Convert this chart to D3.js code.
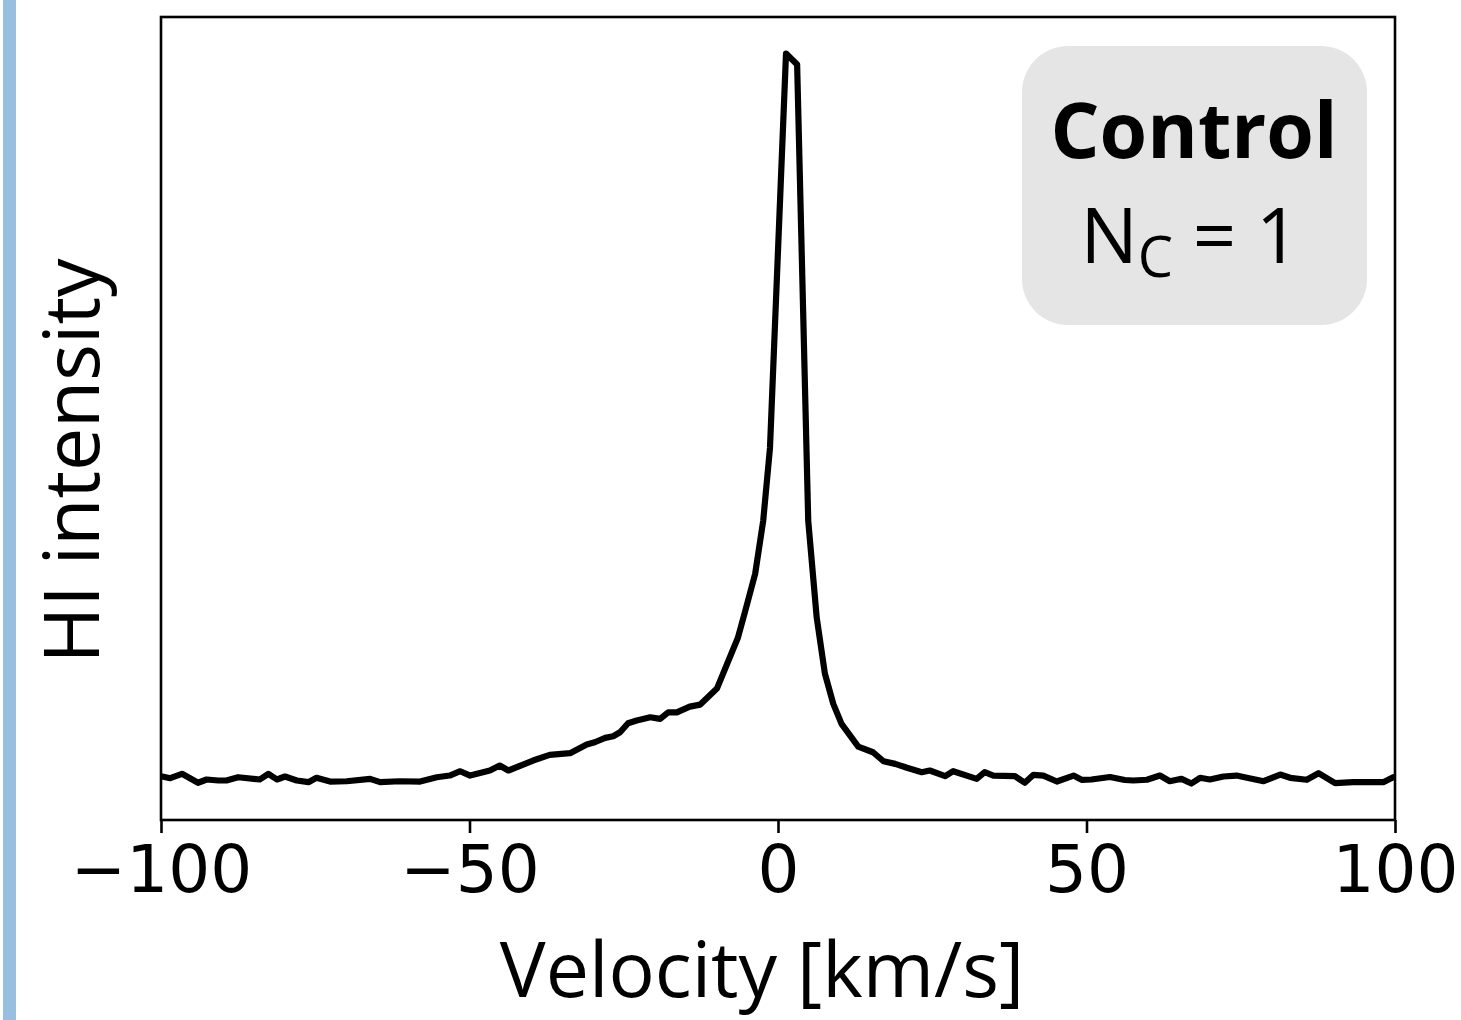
<!DOCTYPE html>
<html>
<head>
<meta charset="utf-8">
<script src="https://cdn.jsdelivr.net/npm/d3@7"></script>
<style>
  html, body { margin: 0; padding: 0; background: #fff; }
  svg { display: block; }
</style>
</head>
<body>
<svg id="chart" width="1461" height="1020"></svg>
<script>
// HI spectrum: velocity (km/s) and intensity (arbitrary units, peak = 100)
const velocity = [
  -100, -98.5, -96.6, -94.0, -92.6, -90.7, -89.4, -87.5, -84.0, -82.6,
  -81.2, -79.9, -78.0, -76.1, -74.8, -72.6, -69.9, -66.1, -64.5, -61.3,
  -58.0, -55.3, -53.2, -51.5, -49.9, -46.7, -45.1, -43.7, -39.7, -37.0,
  -33.7, -31.0, -29.7, -28.0, -26.7, -25.6, -24.3, -22.9, -20.7, -19.1,
  -17.8, -16.4, -14.3, -12.6, -9.9, -6.5, -5.3, -3.7, -2.4, -1.3,
  1.3, 3.1, 4.9, 6.27, 7.6, 8.96, 10.3, 13.0, 15.4, 17.1,
  19.0, 20.9, 23.3, 24.6, 27.1, 28.4, 32.2, 33.5, 34.9, 38.4,
  40.0, 41.4, 43.0, 45.2, 47.9, 49.2, 50.8, 53.8, 56.2, 57.6,
  59.8, 61.9, 63.5, 65.4, 67.0, 68.4, 70.0, 72.2, 74.3, 76.0,
  78.7, 81.4, 83.0, 85.7, 87.6, 90.3, 93.2, 98.1, 99.7, 100
];
const intensity = [
  1.0, 0.73, 1.33, 0.10, 0.55, 0.41, 0.41, 0.86, 0.55, 1.33,
  0.55, 0.96, 0.41, 0.18, 0.78, 0.27, 0.31, 0.64, 0.18, 0.31,
  0.27, 0.86, 1.09, 1.68, 1.09, 1.78, 2.46, 1.78, 3.15, 3.93,
  4.15, 5.34, 5.65, 6.25, 6.47, 7.02, 8.25, 8.62, 9.07, 8.85,
  9.75, 9.75, 10.53, 10.81, 13.0, 19.97, 23.67, 28.73, 35.98, 45.96,
  100, 98.5, 35.98, 22.75, 15.05, 10.9, 8.17, 5.06, 4.28, 3.05,
  2.69, 2.15, 1.55, 1.78, 1.0, 1.68, 0.64, 1.55, 1.09, 1.0,
  0.10, 1.19, 1.09, 0.27, 1.09, 0.51, 0.55, 0.89, 0.48, 0.41,
  0.51, 1.09, 0.31, 0.64, 0.0, 0.78, 0.55, 0.96, 1.09, 0.78,
  0.31, 1.23, 0.78, 0.51, 1.41, 0.04, 0.18, 0.18, 0.86, 0.9
];
const xTicks = [-100, -50, 0, 50, 100];
const xLabel = "Velocity [km/s]";
const yLabel = "HI intensity";
const boxTitle = "Control";
const boxCount = 1;

const spectrum = velocity.map((v, i) => ({ v, t: intensity[i] }));

const svg = d3.select("#chart");
const plot = { left: 161, right: 1395, top: 17, bottom: 820 };

// side accent bar
svg.append("rect")
  .attr("x", 3).attr("y", 0).attr("width", 13).attr("height", 1020)
  .attr("fill", "#98bee0");

const x = d3.scaleLinear().domain([-100, 100]).range([plot.left, plot.right]);
const tMin = d3.min(intensity), tMax = d3.max(intensity);
const pad = (tMax - tMin) * 0.05;
const y = d3.scaleLinear().domain([tMin - pad, tMax + pad]).range([plot.bottom, plot.top]);

// spectrum line
const line = d3.line().x(d => x(d.v)).y(d => y(d.t));
svg.append("path")
  .datum(spectrum)
  .attr("d", line)
  .attr("fill", "none")
  .attr("stroke", "#000")
  .attr("stroke-width", 6.2)
  .attr("stroke-linejoin", "round")
  .attr("stroke-linecap", "butt");

// frame
svg.append("rect")
  .attr("x", plot.left).attr("y", plot.top)
  .attr("width", plot.right - plot.left).attr("height", plot.bottom - plot.top)
  .attr("fill", "none").attr("stroke", "#000").attr("stroke-width", 2.6);

// x axis
const xAxis = d3.axisBottom(x).tickValues(xTicks).tickSize(13).tickPadding(12)
  .tickFormat(d3.format("d"));
const gx = svg.append("g").attr("transform", `translate(0,${plot.bottom})`).call(xAxis);
gx.select(".domain").remove();
gx.selectAll(".tick line").attr("stroke", "#000").attr("stroke-width", 2.6);
gx.selectAll(".tick text")
  .attr("fill", "#000")
  .style("font-family", "'DejaVu Sans', sans-serif")
  .style("font-size", "66px");

// axis labels
svg.append("text")
  .attr("x", 762).attr("y", 997)
  .attr("text-anchor", "middle")
  .style("font-family", "'Open Sans', sans-serif")
  .style("font-size", "77px")
  .text(xLabel);

svg.append("text")
  .attr("transform", "translate(99,461) rotate(-90)")
  .attr("text-anchor", "middle")
  .style("font-family", "'Open Sans', sans-serif")
  .style("font-size", "77px")
  .text(yLabel);

// annotation box
svg.append("rect")
  .attr("x", 1022).attr("y", 46).attr("width", 345).attr("height", 279)
  .attr("rx", 46).attr("ry", 46)
  .attr("fill", "#e5e5e5");

svg.append("text")
  .attr("x", 1194).attr("y", 158)
  .attr("text-anchor", "middle")
  .style("font-family", "'Open Sans', sans-serif")
  .style("font-weight", "bold")
  .style("font-size", "77px")
  .text(boxTitle);

const nc = svg.append("text")
  .attr("x", 1190).attr("y", 263)
  .attr("text-anchor", "middle")
  .style("font-family", "'Open Sans', sans-serif")
  .style("font-size", "76px");
nc.append("tspan").text("N");
nc.append("tspan").attr("dy", 14).style("font-size", "56px").text("C");
nc.append("tspan").attr("dy", -14).text(" = " + boxCount);
</script>
</body>
</html>
